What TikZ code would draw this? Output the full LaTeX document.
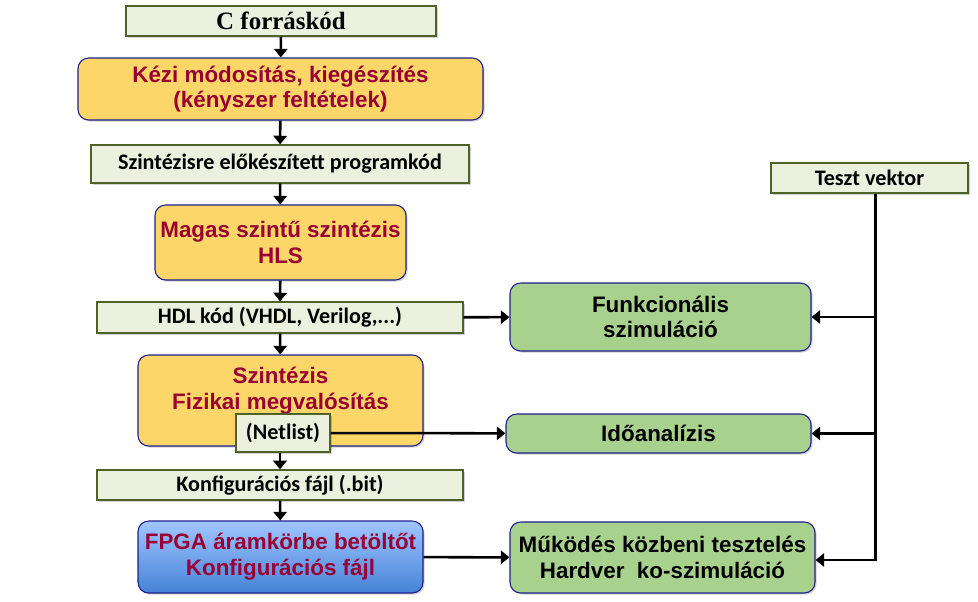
\documentclass[tikz,border=0pt]{standalone}
\usepackage{fontspec}
\setmainfont{Liberation Sans}
\newfontfamily\calibri{Carlito}
\newfontfamily\timesrm{Liberation Serif}
\usetikzlibrary{arrows.meta,shadows}
\definecolor{codefill}{RGB}{235,241,222}
\definecolor{codeline}{RGB}{79,98,40}
\definecolor{stepyellow}{RGB}{252,214,104}
\definecolor{stepgreen}{RGB}{169,209,142}
\definecolor{stepline}{RGB}{30,30,140}
\definecolor{steptext}{RGB}{153,0,51}
\definecolor{fpgatop}{RGB}{160,198,255}
\definecolor{fpgabot}{RGB}{70,130,215}
\tikzset{
  shade/.style={drop shadow={shadow xshift=1.2pt,shadow yshift=-1.2pt,fill=black,opacity=0.18}},
  codebox/.style={draw=codeline,fill=codefill,line width=0.9pt,inner sep=0pt,align=center,shade,
    font=\calibri\bfseries\fontsize{16.6}{19}\selectfont},
  stepbox/.style={draw=stepline,fill=stepyellow,line width=0.8pt,rounded corners=8pt,inner sep=0pt,
    align=center,shade,text=steptext,font=\bfseries\fontsize{16.8}{19.3}\selectfont},
  checkbox/.style={stepbox,fill=stepgreen,text=black},
  arr/.style={line width=1.9pt,-{Triangle[width=10pt,length=6.5pt]}}
}
\begin{document}
\begin{tikzpicture}[x=0.75pt,y=-0.75pt]
  \def\u{0.75pt}
  \useasboundingbox (0,0) rectangle (978,601);
  % left column
  \node[codebox,minimum width=310*\u,minimum height=30*\u,font=\timesrm\bfseries\fontsize{18.7}{21}\selectfont]
    (src) at (281,21) {C forráskód};
  \node[stepbox,minimum width=405*\u,minimum height=62*\u] (kezi) at (280.5,89)
    {Kézi módosítás, kiegészítés\\(kényszer feltételek)};
  \node[codebox,minimum width=378*\u,minimum height=38*\u] (prep) at (280,164)
    {Szintézisre előkészített programkód};
  \node[stepbox,minimum width=251*\u,minimum height=75*\u] (hls) at (280.5,242.5)
    {Magas szintű szintézis\\HLS};
  \node[codebox,minimum width=366*\u,minimum height=31*\u] (hdl) at (280,317.5)
    {HDL kód (VHDL, Verilog,...)};
  \node[stepbox,minimum width=285*\u,minimum height=91*\u,text depth=24*\u] (synth) at (280.5,400.5)
    {Szintézis\\Fizikai megvalósítás};
  \node[codebox,minimum width=94*\u,minimum height=38*\u] (netlist) at (283,433)
    {(Netlist)};
  \node[codebox,minimum width=366*\u,minimum height=30*\u] (conf) at (280,485)
    {Konfigurációs fájl (.bit)};
  \node[stepbox,top color=fpgatop,bottom color=fpgabot,minimum width=285*\u,minimum height=72*\u]
    (fpga) at (280.5,557) {FPGA áramkörbe betöltőt\\Konfigurációs fájl};
  % right column
  \node[codebox,minimum width=197*\u,minimum height=30*\u] (teszt) at (869.5,178) {Teszt vektor};
  \node[checkbox,minimum width=301*\u,minimum height=68*\u] (funk) at (660.5,317)
    {Funkcionális\\szimuláció};
  \node[checkbox,minimum width=305*\u,minimum height=39*\u] (ido) at (658.5,433.5) {Időanalízis};
  \node[checkbox,minimum width=305*\u,minimum height=71*\u] (hwsim) at (662.5,557.5)
    {Működés közbeni tesztelés\\Hardver\ \ ko-szimuláció};
  % connectors
  \draw[arr] (src) -- (kezi);
  \draw[arr] (kezi) -- (prep);
  \draw[arr] (prep) -- (hls);
  \draw[arr] (hls) -- (hdl);
  \draw[arr] (hdl) -- (synth);
  \draw[arr] (netlist.south -| conf.north) -- (conf);
  \draw[arr] (conf) -- (fpga);
  \draw[arr] (hdl) -- (funk);
  \draw[arr] (netlist) -- (ido);
  \draw[arr] (fpga) -- (hwsim);
  \coordinate (bus) at ([xshift=6*\u]teszt.south);
  \draw[arr] (bus) |- ([yshift=-2.5*\u]hwsim.east);
  \draw[arr] (bus |- funk.east) -- (funk);
  \draw[arr] (bus |- ido.east) -- (ido);
\end{tikzpicture}
\end{document}
